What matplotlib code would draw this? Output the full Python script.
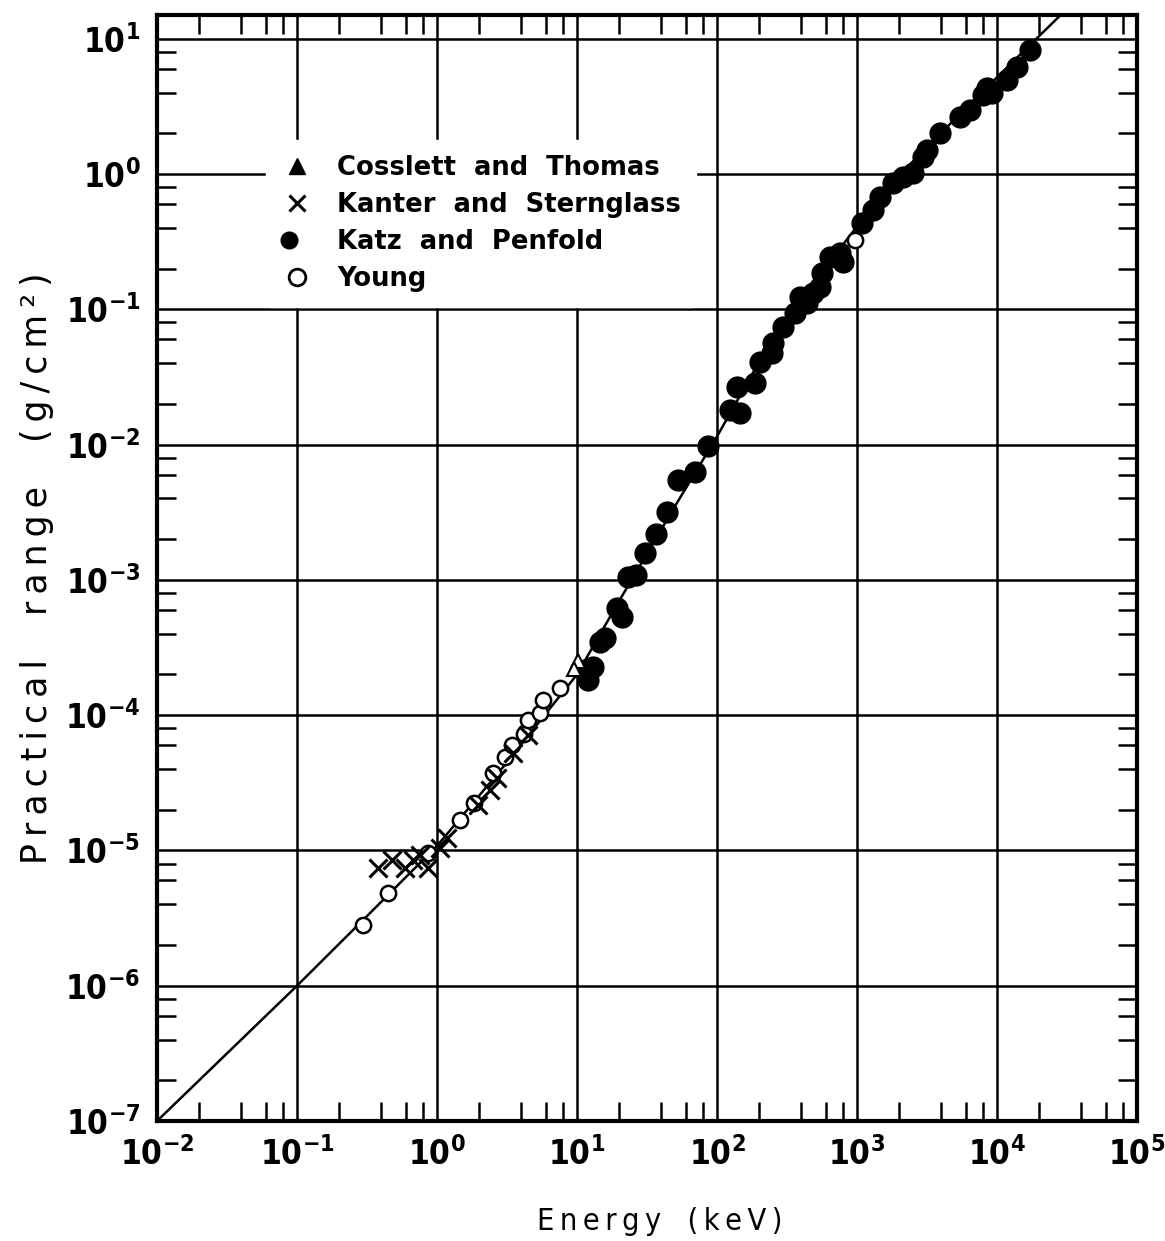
import numpy as np
import matplotlib.pyplot as plt
from matplotlib.lines import Line2D
from matplotlib.legend_handler import HandlerTuple
from matplotlib.ticker import LogLocator, NullFormatter

plt.rcParams["font.weight"] = "bold"
plt.rcParams["font.stretch"] = "condensed"

# Datos (energia en keV, alcance en g/cm2)
# ======================================================================================
linea_E = [0.01, 0.1, 0.3, 1, 3, 10, 20, 50, 100, 200, 350, 700, 1000, 2000, 5000,
           10000, 20000, 30000]
linea_R = [1e-7, 1e-6, 3.1e-6, 1.08e-5, 4.2e-5, 2.0e-4, 7.0e-4, 3.5e-3, 1.15e-2,
           4.1e-2, 1.0e-1, 2.55e-1, 4.1e-1, 0.98, 2.55, 5.2, 10.5, 15.8]

cosslett_E = [10.2, 9.5]
cosslett_R = [2.5e-4, 2.2e-4]

kanter_E = [0.379, 0.477, 0.591, 0.674, 0.757, 0.863, 1.05, 1.18, 1.96, 2.39, 2.69,
            3.49, 4.47]
kanter_R = [7.4e-6, 8.5e-6, 7.4e-6, 8.5e-6, 9.3e-6, 7.4e-6, 1.04e-5, 1.24e-5, 2.17e-5,
            2.8e-5, 3.44e-5, 5.26e-5, 7.15e-5]

katz_E = [11.4, 13.0, 12.0, 14.6, 15.8, 19.3, 20.9, 23.1, 26.4, 30.6, 36.6, 44.0, 52.6,
          69.7, 86.3, 124, 146, 139, 187, 203, 247, 251, 296, 361, 392, 440, 485, 544,
          562, 641, 756, 794, 1086, 1300, 1460, 1807, 2131, 2512, 2960, 3162, 3917,
          5445, 6412, 7943, 8485, 9204, 11780, 13900, 17200]
katz_R = [2.16e-4, 2.28e-4, 1.82e-4, 3.48e-4, 3.72e-4, 6.21e-4, 5.32e-4, 1.05e-3,
          1.09e-3, 1.58e-3, 2.19e-3, 3.18e-3, 5.48e-3, 6.29e-3, 9.8e-3, 1.81e-2,
          1.72e-2, 2.67e-2, 2.86e-2, 4.09e-2, 4.76e-2, 5.65e-2, 7.43e-2, 9.42e-2,
          0.124, 0.112, 0.132, 0.147, 0.186, 0.244, 0.262, 0.225, 0.436, 0.545, 0.679,
          0.861, 0.955, 1.02, 1.34, 1.51, 2.02, 2.65, 2.98, 3.85, 4.35, 3.99, 4.98,
          6.21, 8.30]

young_E = [0.296, 0.447, 0.863, 1.46, 1.84, 2.51, 3.06, 3.43, 4.18, 4.47, 5.44, 5.71,
           7.56, 968]
young_R = [2.81e-6, 4.85e-6, 9.6e-6, 1.68e-5, 2.24e-5, 3.74e-5, 4.91e-5, 6.03e-5,
           7.26e-5, 9.2e-5, 1.04e-4, 1.30e-4, 1.59e-4, 0.327]

ticks_x = [1e-2, 1e-1, 1e0, 1e1, 1e2, 1e3, 1e4, 1e5]
ticks_y = [1e-7, 1e-6, 1e-5, 1e-4, 1e-3, 1e-2, 1e-1, 1e0, 1e1]

etiquetas = ["Cosslett  and  Thomas", "Kanter  and  Sternglass", "Katz  and  Penfold",
             "Young"]


def espaciar(texto):
    # separa las letras con espacios finos, como el rotulado original
    return "\u2009".join(texto)


# Figura
# ======================================================================================
fig = plt.figure(figsize=(11.65, 12.41), dpi=100)
ax = fig.add_axes([0.1348, 0.0967, 0.8412, 0.8912])
ax.set_xscale("log")
ax.set_yscale("log")

ax.plot(linea_E, linea_R, color="black", lw=1.8, zorder=3)
ax.plot(katz_E, katz_R, "o", color="black", ms=15, zorder=4)
ax.plot(young_E, young_R, "o", mfc="white", mec="black", mew=1.8, ms=11, zorder=5)
ax.plot(kanter_E, kanter_R, "x", color="black", mew=2.2, ms=13, zorder=5)
ax.plot(cosslett_E, cosslett_R, "^", mfc="white", mec="black", mew=1.5, ms=10, zorder=5)

ax.set_xticks(ticks_x)
ax.set_yticks(ticks_y)
for eje in (ax.xaxis, ax.yaxis):
    eje.set_minor_locator(LogLocator(base=10, subs=(2, 4, 6, 8), numticks=20))
    eje.set_minor_formatter(NullFormatter())
ax.set_xlim(1e-2, 1e5)
ax.set_ylim(1e-7, 15.0)

ax.grid(True, which="major", color="black", lw=1.8)
ax.set_axisbelow(True)

ax.tick_params(which="both", direction="in", top=True, right=True, width=1.8,
               labelsize=24)
ax.tick_params(which="major", length=0, pad=12)
ax.tick_params(which="minor", length=14)

for s in ax.spines.values():
    s.set_linewidth(3)

ax.set_xlabel(espaciar("Energy") + "   " + espaciar("(keV)"), fontsize=22,
              fontweight="normal")
ax.xaxis.set_label_coords(0.513, -0.078)
ax.set_ylabel(espaciar("Practical") + "    " + espaciar("range") + "    "
              + espaciar("(g/cm²)"), fontsize=25, fontweight="normal",
              fontstretch="normal")
ax.yaxis.set_label_coords(-0.123, 0.5)
ax.yaxis.label.set_verticalalignment("center")

# Leyenda
h_cos = Line2D([], [], ls="none", marker="^", color="black", ms=11)
h_kan = Line2D([], [], ls="none", marker="x", color="black", mew=2.2, ms=11)
h_katz = Line2D([], [], ls="none", marker="o", color="black", ms=12)
h_punto = Line2D([], [], ls="none", marker="o", color="white", ms=3)
h_you = Line2D([], [], ls="none", marker="o", mfc="white", mec="black", mew=2, ms=12)

leg = ax.legend([h_cos, h_kan, (h_katz, h_punto), h_you], etiquetas,
                handler_map={tuple: HandlerTuple(ndivide=None, pad=0)},
                loc="upper left", bbox_to_anchor=(0.098, 0.899),
                prop=dict(size=18.6, weight="bold", stretch="normal"),
                frameon=True, framealpha=1, facecolor="white", edgecolor="white",
                handlelength=1.2, handletextpad=0.95, labelspacing=0.42,
                borderpad=0.6)
leg.set_zorder(6)

plt.savefig("out.png", dpi=100)
